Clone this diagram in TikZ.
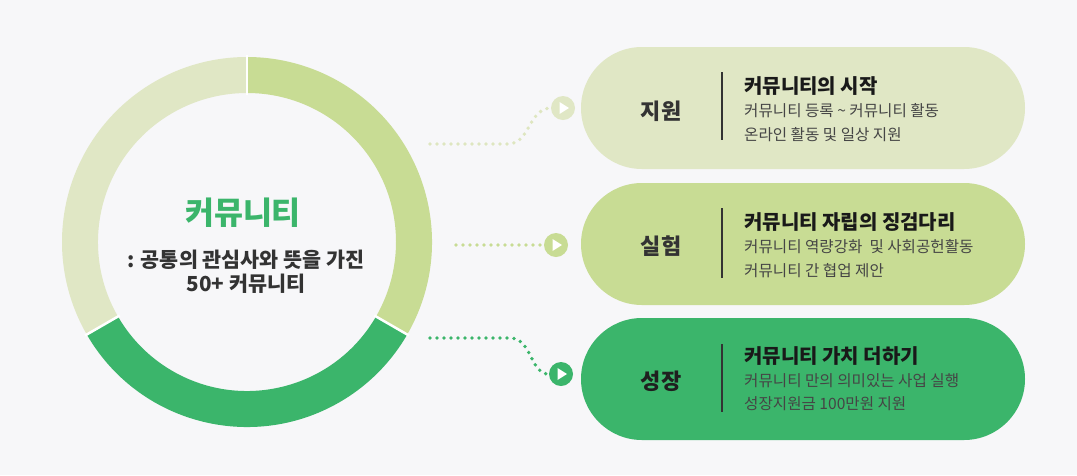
\documentclass[tikz,border=0pt]{standalone}
\usepackage{fontspec}
\setmainfont{Noto Sans CJK KR}
\definecolor{bg}{HTML}{F7F7F9}
\definecolor{gA}{HTML}{E0E7C5}
\definecolor{gB}{HTML}{C8DC94}
\definecolor{gC}{HTML}{3BB56B}
\definecolor{txt}{HTML}{333333}
\definecolor{body}{HTML}{454545}
\tikzset{
  pill/.style={rounded corners=61pt, minimum width=444pt, minimum height=122pt, inner sep=0pt},
  lbl/.style={font=\bfseries\fontsize{22}{26}\selectfont, text=txt, anchor=center},
  ttl/.style={font=\bfseries\fontsize{20}{24}\selectfont, text=black!90, anchor=west, inner sep=0pt},
  bod/.style={font=\fontsize{15.6}{18}\selectfont, text=body, anchor=west, inner sep=0pt},
  dots/.style={line width=3.8pt, line cap=round, dash pattern=on 0pt off 7pt},
  play/.style={circle, minimum size=24pt, inner sep=0pt},
  divline/.style={line width=1.3pt, draw=txt}
}
\begin{document}
\begin{tikzpicture}[x=1pt,y=-1pt]
\fill[bg] (0,0) rectangle (1077,475);
\useasboundingbox (0,0) rectangle (1077,475);
% ring
\begin{scope}[shift={(247,242)}, yscale=-1]
  \fill[gA] (90:185) arc[start angle=90, end angle=210, radius=185] -- (210:149) arc[start angle=210, end angle=90, radius=149] -- cycle;
  \fill[gC] (210:185) arc[start angle=210, end angle=330, radius=185] -- (330:149) arc[start angle=330, end angle=210, radius=149] -- cycle;
  \fill[gB] (330:185) arc[start angle=330, end angle=450, radius=185] -- (450:149) arc[start angle=450, end angle=330, radius=149] -- cycle;
  \foreach \a in {90,210,330} \draw[white, line width=2.5pt] (\a:147) -- (\a:187);
\end{scope}
\node[font=\bfseries\fontsize{31.5}{36}\selectfont, text=gC] (ctitle) at (243,213) {커뮤니티};
\node[font=\bfseries\fontsize{20.7}{24}\selectfont, text=txt] (csub1) at (246,260) {: 공통의 관심사와 뜻을 가진};
\node[font=\bfseries\fontsize{20.7}{24}\selectfont, text=txt] (csub2) at (246,284) {50+ 커뮤니티};
% pills
\node[pill, fill=gA] (p1) at (803,108) {};
\node[pill, fill=gB] (p2) at (803,244) {};
\node[pill, fill=gC] (p3) at (803,379) {};
% labels
\node[lbl] (l1) at (661,111) {지원};
\node[lbl] (l2) at (661,246) {실험};
\node[lbl, text=black!88] (l3) at (661,381) {성장};
% dividers
\coordinate (d1a) at (722,72); \coordinate (d1b) at (722,140);
\coordinate (d2a) at (722,208); \coordinate (d2b) at (722,278);
\coordinate (d3a) at (722,344); \coordinate (d3b) at (722,412);
\draw[divline] (d1a) -- (d1b);
\draw[divline] (d2a) -- (d2b);
\draw[divline] (d3a) -- (d3b);
% texts
\node[ttl] (t1) at (744,86) {커뮤니티의 시작};
\node[bod] (b1a) at (744,111) {커뮤니티 등록 \textasciitilde{} 커뮤니티 활동};
\node[bod] (b1b) at (744,135) {온라인 활동 및 일상 지원};
\node[ttl] (t2) at (744,222) {커뮤니티 자립의 징검다리};
\node[bod] (b2a) at (744,247) {커뮤니티 역량강화\ \ 및 사회공헌활동};
\node[bod] (b2b) at (744,271) {커뮤니티 간 협업 제안};
\node[ttl] (t3) at (744,356) {커뮤니티 가치 더하기};
\node[bod] (b3a) at (744,381) {커뮤니티 만의 의미있는 사업 실행};
\node[bod] (b3b) at (744,404) {성장지원금 100만원 지원};
% play circles
\node[play, fill=gA] (c1) at (563,108) {};
\node[play, fill=gB] (c2) at (556,245) {};
\node[play, fill=gC] (c3) at (561,374) {};
\foreach \c in {c1,c2,c3}
  \fill[white] ([shift={(-3.5pt,-6pt)}]\c.center) -- ([shift={(6pt,0pt)}]\c.center) -- ([shift={(-3.5pt,6pt)}]\c.center) -- cycle;
% connectors
\coordinate (s1) at (430,144);
\coordinate (s2) at (456,245);
\coordinate (s3) at (430,338);
\draw[dots, draw=gA!90!gB] (s1) -- (508,144) .. controls (530,144) and (528,109) .. (c1.west);
\draw[dots, draw=gB] (s2) -- (c2.west);
\draw[dots, draw=gC] (s3) -- (510,338) .. controls (532,338) and (530,374) .. (c3.west);
\end{tikzpicture}
\end{document}
